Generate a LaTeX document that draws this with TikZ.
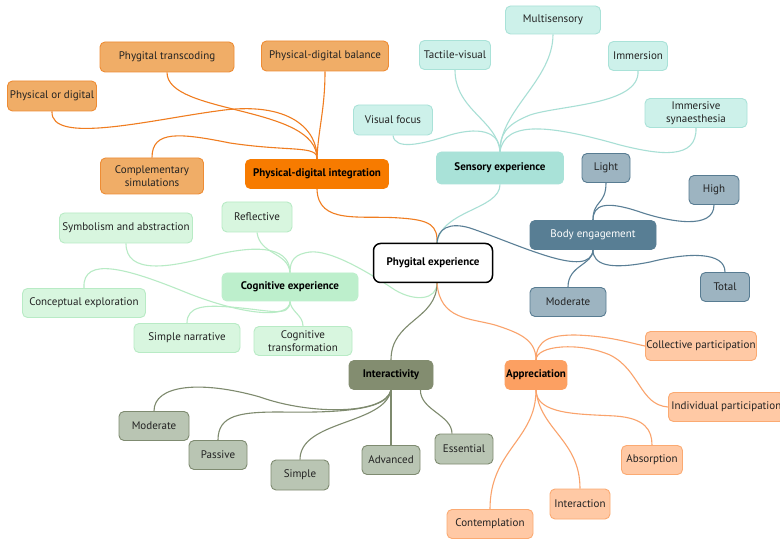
\documentclass[tikz,border=0pt]{standalone}
\usepackage{fontspec}
\setmainfont{PT Sans}
\usetikzlibrary{calc,backgrounds}
\definecolor{oLine}{HTML}{F07D20}
\definecolor{oFill}{HTML}{F0AD67}
\definecolor{oDraw}{HTML}{EE8C34}
\definecolor{oMain}{HTML}{F77B00}
\definecolor{tLine}{HTML}{A8DFD5}
\definecolor{tFill}{HTML}{CDF1EA}
\definecolor{tDraw}{HTML}{A9E2D8}
\definecolor{tMain}{HTML}{A9E2D8}
\definecolor{sLine}{HTML}{5A7F96}
\definecolor{sFill}{HTML}{9DB4C1}
\definecolor{sDraw}{HTML}{587C92}
\definecolor{sMain}{HTML}{587E94}
\definecolor{gLine}{HTML}{B8EBC5}
\definecolor{gFill}{HTML}{D8F6DF}
\definecolor{gDraw}{HTML}{B8EBC5}
\definecolor{gMain}{HTML}{BDEFCC}
\definecolor{vLine}{HTML}{7E8A6E}
\definecolor{vFill}{HTML}{B9C5B3}
\definecolor{vDraw}{HTML}{7F8B71}
\definecolor{vMain}{HTML}{838D70}
\definecolor{aLine}{HTML}{FAA36C}
\definecolor{aFill}{HTML}{FFC9A5}
\definecolor{aDraw}{HTML}{FBAA72}
\definecolor{aMain}{HTML}{FCA062}
\definecolor{txt}{HTML}{222222}
\begin{document}
\begin{tikzpicture}[x=1pt,y=-1pt,
  base/.style={rounded corners=5pt, draw, line width=0.9pt, align=center, inner sep=1pt, text=txt, font=\fontsize{11}{12.5}\selectfont},
  mainb/.style={base, text=black, font=\fontsize{11}{12.5}\selectfont\bfseries},
  oleaf/.style={base, fill=oFill, draw=oDraw},
  omain/.style={mainb, fill=oMain, draw=oMain},
  tleaf/.style={base, fill=tFill, draw=tDraw},
  tmain/.style={mainb, fill=tMain, draw=tMain},
  sleaf/.style={base, fill=sFill, draw=sDraw},
  smain/.style={base, fill=sMain, draw=sMain, text=white},
  gleaf/.style={base, fill=gFill, draw=gDraw},
  gmain/.style={mainb, fill=gMain, draw=gMain},
  vleaf/.style={base, fill=vFill, draw=vDraw},
  vmain/.style={mainb, fill=vMain, draw=vMain},
  aleaf/.style={base, fill=aFill, draw=aDraw},
  amain/.style={mainb, fill=aMain, draw=aMain},
  cmain/.style={mainb, fill=white, draw=black, line width=1.5pt, rounded corners=7pt},
  oc/.style={draw=oLine, line width=1.1pt},
  tc/.style={draw=tLine, line width=1.1pt},
  sc/.style={draw=sLine, line width=1.1pt},
  gc/.style={draw=gLine, line width=1.1pt},
  vc/.style={draw=vLine, line width=1.1pt},
  ac/.style={draw=aLine, line width=1.1pt}
]
\useasboundingbox (0,0) rectangle (780,540);

% ---------- nodes ----------
\node[cmain, minimum width=119pt, minimum height=39pt] (phy) at (433,263) {Phygital experience};
\coordinate (hubN) at (437,244);
\coordinate (hubS) at (437,283);

% orange
\node[omain, minimum width=143pt, minimum height=29pt] (pdi) at (317,174) {Physical-digital integration};
\node[oleaf, minimum width=134pt, minimum height=30pt] (ptrans) at (167,57) {Phygital transcoding};
\node[oleaf, minimum width=127pt, minimum height=30pt] (pdb) at (325,56) {Physical-digital balance};
\node[oleaf, minimum width=89pt, minimum height=30pt] (pod) at (52,96) {Physical or digital};
\node[oleaf, minimum width=103pt, minimum height=36pt] (csim) at (152,176) {Complementary\\simulations};

% teal
\node[tmain, minimum width=127pt, minimum height=32pt] (sens) at (500,168) {Sensory experience};
\node[tleaf, minimum width=95pt, minimum height=28pt] (multi) at (553,20) {Multisensory};
\node[tleaf, minimum width=71pt, minimum height=29pt] (tact) at (455,55) {Tactile-visual};
\node[tleaf, minimum width=59pt, minimum height=29pt] (imm) at (638,56) {Immersion};
\node[tleaf, minimum width=79pt, minimum height=30pt] (vis) at (393,120) {Visual focus};
\node[tleaf, minimum width=102pt, minimum height=29pt] (syn) at (696,113) {Immersive\\synaesthesia};

% slate
\node[smain, minimum width=126pt, minimum height=29pt] (body) at (593,235) {Body engagement};
\node[sleaf, minimum width=48pt, minimum height=29pt] (light) at (606,168) {Light};
\node[sleaf, minimum width=50pt, minimum height=29pt] (high) at (714,190) {High};
\node[sleaf, minimum width=76pt, minimum height=29pt] (bmod) at (568,302) {Moderate};
\node[sleaf, minimum width=49pt, minimum height=29pt] (total) at (725,287) {Total};

% green
\node[gmain, minimum width=136pt, minimum height=28pt] (cog) at (290,287) {Cognitive experience};
\node[gleaf, minimum width=70pt, minimum height=30pt] (refl) at (257,217) {Reflective};
\node[gleaf, minimum width=133pt, minimum height=30pt] (symb) at (126,228) {Symbolism and abstraction};
\node[gleaf, minimum width=123pt, minimum height=29pt] (conc) at (84,303) {Conceptual exploration};
\node[gleaf, minimum width=106pt, minimum height=29pt] (narr) at (187,338) {Simple narrative};
\node[gleaf, minimum width=98pt, minimum height=29pt] (ctrans) at (303,341) {Cognitive\\transformation};

% olive
\node[vmain, minimum width=84pt, minimum height=29pt] (inter) at (391,375) {Interactivity};
\node[vleaf, minimum width=70pt, minimum height=29pt] (vmod) at (154,426) {Moderate};
\node[vleaf, minimum width=58pt, minimum height=29pt] (pass) at (218,455) {Passive};
\node[vleaf, minimum width=58pt, minimum height=30pt] (simp) at (300,475) {Simple};
\node[vleaf, minimum width=58pt, minimum height=29pt] (adv) at (391,460) {Advanced};
\node[vleaf, minimum width=58pt, minimum height=30pt] (ess) at (464,449) {Essential};

% appreciation
\node[amain, minimum width=60pt, minimum height=29pt] (app) at (536,375) {Appreciation};
\node[aleaf, minimum width=111pt, minimum height=29pt] (coll) at (701,346) {Collective participation};
\node[aleaf, anchor=west, minimum height=29pt, inner xsep=3pt] (indiv) at (668,407) {Individual participation};
\node[aleaf, minimum width=61pt, minimum height=29pt] (abs) at (652,460) {Absorption};
\node[aleaf, minimum width=60pt, minimum height=30pt] (inta) at (580,504) {Interaction};
\node[aleaf, minimum width=86pt, minimum height=29pt] (cont) at (490,524) {Contemplation};

% ---------- connectors ----------
\begin{scope}[on background layer]
\fill[white] (0,0) rectangle (780,540);
% orange
\path[oc] (pdi.north) .. controls (318,105) and (167,115) .. (ptrans.south);
\path[oc] (pdi.north) .. controls (318,130) and (325,110) .. (pdb.south);
\path[oc] (pod.south) .. controls (50,145) and (150,120) .. (217,111) .. controls (290,100) and (318,130) .. (pdi.north);
\path[oc] (csim.north) .. controls (152,130) and (180,133) .. (230,143) .. controls (290,152) and (318,145) .. (pdi.north);
\path[oc] (pdi.south) .. controls (318,225) and (360,215) .. (400,218) .. controls (430,220) and (438,225) .. (hubN);

% teal
\path[tc] (sens.north) .. controls (497,120) and (455,110) .. (tact.south);
\path[tc] (sens.north) .. controls (500,110) and (553,80) .. (multi.south);
\path[tc] (imm.south) .. controls (640,105) and (560,105) .. (530,115) .. controls (505,125) and (500,135) .. (sens.north);
\path[tc] (vis.south) .. controls (395,150) and (420,145) .. (450,135) .. controls (485,125) and (500,135) .. (sens.north);
\path[tc] (syn.south) .. controls (697,160) and (660,155) .. (620,145) .. controls (550,125) and (505,120) .. (sens.north);
\path[tc] (sens.south) .. controls (500,210) and (440,210) .. (hubN);

% slate
\path[sc] (hubN) .. controls (437,228) and (450,222) .. (470,228) .. controls (520,245) and (590,280) .. (body.south);
\path[sc] (light.south) .. controls (606,205) and (593,200) .. (body.north);
\path[sc] (high.south) .. controls (714,230) and (670,222) .. (640,212) .. controls (605,200) and (593,205) .. (body.north);
\path[sc] (bmod.north) .. controls (568,265) and (593,265) .. (body.south);
\path[sc] (total.north) .. controls (725,252) and (690,252) .. (650,262) .. controls (610,270) and (593,265) .. (body.south);

% green
\path[gc] (hubS) .. controls (437,300) and (415,302) .. (395,290) .. controls (365,270) and (330,250) .. (310,252) .. controls (295,254) and (290,260) .. (cog.north);
\path[gc] (refl.south) .. controls (260,255) and (288,252) .. (cog.north);
\path[gc] (symb.south) .. controls (126,275) and (170,268) .. (215,255) .. controls (265,243) and (290,250) .. (cog.north);
\path[gc] (conc.north) .. controls (82,255) and (130,270) .. (180,290) .. controls (240,315) and (290,320) .. (cog.south);
\path[gc] (narr.north) .. controls (187,306) and (205,305) .. (230,307) .. controls (270,310) and (290,318) .. (cog.south);
\path[gc] (ctrans.north) .. controls (303,315) and (291,312) .. (cog.south);

% olive
\path[vc] (hubS) .. controls (437,320) and (391,320) .. (inter.north);
\path[vc] (vmod.north) .. controls (154,385) and (200,380) .. (260,397) .. controls (310,415) and (385,415) .. (inter.south);
\path[vc] (pass.north) .. controls (218,415) and (240,412) .. (280,412) .. controls (340,413) and (388,410) .. (inter.south);
\path[vc] (simp.north) .. controls (300,420) and (385,425) .. (inter.south);
\path[vc] (adv.north) -- (inter.south);
\path[vc] ($(inter.south east)+(-13,0)$) .. controls (420,410) and (452,415) .. ($(ess.north)+(-12,0)$);

% appreciation
\path[ac] (hubS) .. controls (440,320) and (470,318) .. (495,325) .. controls (520,333) and (536,340) .. (app.north);
\path[ac] (app.north) .. controls (536,340) and (550,335) .. (575,335) .. controls (610,336) and (630,343) .. (coll.west);
\path[ac] (app.north) .. controls (536,345) and (580,342) .. (610,355) .. controls (640,370) and (640,405) .. (indiv.west);
\path[ac] (app.south) .. controls (536,415) and (580,414) .. (615,416) .. controls (645,418) and (652,430) .. (abs.north);
\path[ac] (app.south) .. controls (540,430) and (580,440) .. (inta.north);
\path[ac] (app.south) .. controls (536,440) and (490,450) .. (cont.north);
\end{scope}
\end{tikzpicture}
\end{document}
